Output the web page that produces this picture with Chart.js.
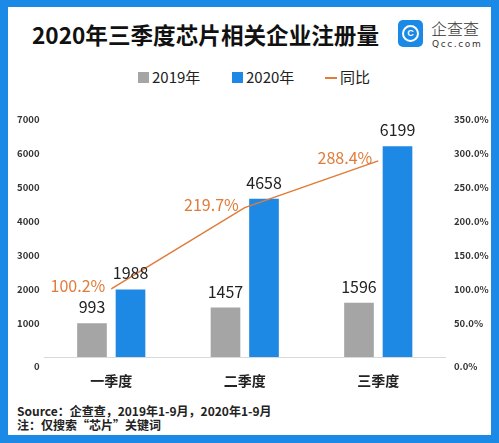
<!DOCTYPE html>
<html>
<head>
<meta charset="utf-8">
<script src="https://cdn.jsdelivr.net/npm/chart.js@4/dist/chart.umd.min.js"></script>
<style>
  html, body { margin: 0; padding: 0; }
  body {
    width: 499px; height: 443px; position: relative; overflow: hidden;
    background: #1b8ae6;
    font-family: "Noto Sans CJK SC", "Noto Sans", sans-serif;
  }
  .panel { position: absolute; left: 8px; top: 7px; width: 483px; height: 428px; background: #fff; }
  .title {
    position: absolute; left: 32px; top: 23px; height: 24px; line-height: 24px;
    font-size: 22.6px; font-weight: 700; color: #111; white-space: nowrap;
  }
  .logo-box {
    position: absolute; left: 398px; top: 20px; width: 25px; height: 27px;
    background: #1b8ae6; border-radius: 5px;
  }
  .logo-ring {
    position: absolute; left: 4px; top: 5px; width: 13px; height: 13px;
    border: 2.5px solid #fff; border-radius: 50%;
    color: #fff; font: 700 9px/13px "Liberation Sans", sans-serif; text-align: center;
  }
  .logo-name {
    position: absolute; left: 431px; top: 20px; line-height: 17px;
    font-size: 16px; font-weight: 300; color: #333; white-space: nowrap;
  }
  .logo-url {
    position: absolute; left: 432px; top: 39px; line-height: 10px;
    font: 9px "DejaVu Sans", sans-serif; letter-spacing: 1.6px; color: #333;
  }
  .legend { position: absolute; top: 69px; height: 16px; line-height: 16px; font-size: 15px; color: #222; }
  .swatch { position: absolute; top: 3px; width: 11px; height: 11px; }
  .note {
    position: absolute; left: 17px; font-size: 12px; font-weight: 700; color: #222;
    line-height: 13px; white-space: nowrap;
  }
  #wrap { position: absolute; left: 0; top: 100px; width: 499px; height: 300px; }
</style>
</head>
<body>
<div class="panel"></div>
<div class="title">2020年三季度芯片相关企业注册量</div>
<div class="logo-box"><div class="logo-ring">C</div></div>
<div class="logo-name">企查查</div>
<div class="logo-url">Qcc.com</div>

<div class="swatch" style="left:138px;top:72px;background:#a5a5a5"></div>
<div class="legend" style="left:152px">2019年</div>
<div class="swatch" style="left:232px;top:72px;background:#1e88e5"></div>
<div class="legend" style="left:246px">2020年</div>
<div class="swatch" style="left:325px;top:77px;width:12px;height:2px;background:#e07b39"></div>
<div class="legend" style="left:340px">同比</div>

<div id="wrap"><canvas id="chart"></canvas></div>

<div class="note" style="top:404px">Source：企查查，2019年1-9月，2020年1-9月</div>
<div class="note" style="top:418px">注：仅搜索“芯片”关键词</div>

<script>
// Chip-related company registrations per quarter
const quarters = ['一季度', '二季度', '三季度'];
const reg2019 = [993, 1457, 1596];
const reg2020 = [1988, 4658, 6199];
const yoyPercent = [100.2, 219.7, 288.4];

const leftMax = 7000;
const leftStep = 1000;
const rightMax = 350;
const rightStep = 50;

const GRAY = '#a5a5a5';
const BLUE = '#1e88e5';
const ORANGE = '#e07b39';

// value labels above bars, percent labels left of line points
const valueLabels = {
    id: 'valueLabels',
    afterDatasetsDraw(chart) {
        const ctx = chart.ctx;
        chart.data.datasets.forEach((ds, i) => {
            const meta = chart.getDatasetMeta(i);
            meta.data.forEach((el, j) => {
                ctx.save();
                ctx.textBaseline = 'middle';
                ctx.font = '16px "Noto Sans CJK SC"';
                if (ds.type === 'line') {
                    ctx.fillStyle = ORANGE;
                    ctx.textAlign = 'right';
                    ctx.fillText(ds.data[j].toFixed(1) + '%', el.x - 6, el.y - 3);
                } else {
                    ctx.fillStyle = '#222';
                    ctx.textAlign = 'center';
                    ctx.fillText(ds.data[j], el.x, el.y - 16);
                }
                ctx.restore();
            });
        });
    }
};

const tickFont = { family: 'Noto Sans CJK SC', size: 9.5, weight: '700', lineHeight: 1.9 };

new Chart(document.getElementById('chart'), {
    type: 'bar',
    data: {
        labels: quarters,
        datasets: [
            {
                type: 'line',
                label: '同比',
                data: yoyPercent,
                borderColor: ORANGE,
                borderWidth: 1.5,
                pointRadius: 0,
                tension: 0,
                yAxisID: 'y1',
                order: 0
            },
            {
                label: '2019年',
                data: reg2019,
                backgroundColor: GRAY,
                categoryPercentage: 0.577,
                barPercentage: 0.77,
                order: 1
            },
            {
                label: '2020年',
                data: reg2020,
                backgroundColor: BLUE,
                categoryPercentage: 0.577,
                barPercentage: 0.77,
                order: 1
            }
        ]
    },
    options: {
        responsive: true,
        maintainAspectRatio: false,
        animation: false,
        layout: { padding: { top: 19, left: 0, right: 0, bottom: 0 } },
        plugins: {
            legend: { display: false },
            tooltip: { enabled: false }
        },
        scales: {
            x: {
                grid: { color: 'transparent', drawTicks: false },
                border: { display: true, color: '#d9d9d9', width: 1 },
                ticks: {
                    padding: 15,
                    color: '#222',
                    font: { family: 'Noto Sans CJK SC', size: 14, weight: '700' }
                },
                afterFit: (s) => { s.height = 43; }
            },
            y: {
                position: 'left',
                min: 0,
                max: leftMax,
                grid: { display: false, drawTicks: false },
                border: { display: false },
                ticks: {
                    stepSize: leftStep,
                    autoSkip: false,
                    padding: 5,
                    color: '#333',
                    font: tickFont,
                    callback: (v) => v === 0 ? ['', '0'] : v
                },
                afterFit: (s) => { s.width = 44.5; }
            },
            y1: {
                position: 'right',
                min: 0,
                max: rightMax,
                grid: { display: false, drawTicks: false },
                border: { display: false },
                ticks: {
                    stepSize: rightStep,
                    autoSkip: false,
                    padding: 9,
                    color: '#333',
                    font: tickFont,
                    callback: (v) => v === 0 ? ['', '0.0%'] : v.toFixed(1) + '%'
                },
                afterFit: (s) => { s.width = 54; }
            }
        }
    },
    plugins: [valueLabels]
});
</script>
</body>
</html>
